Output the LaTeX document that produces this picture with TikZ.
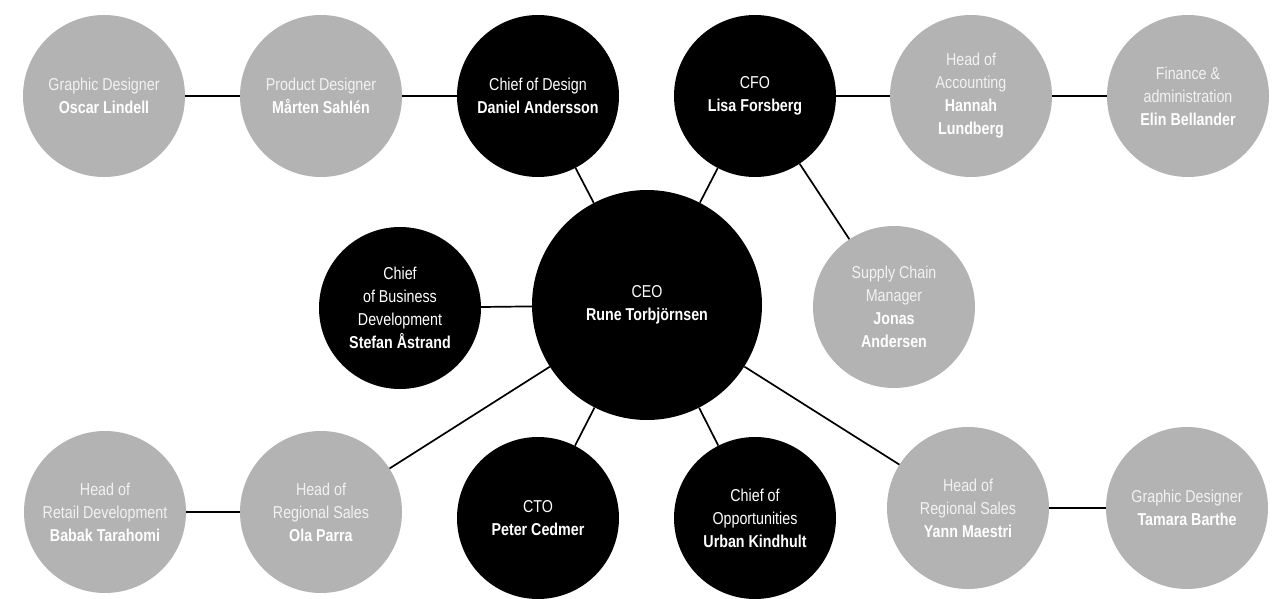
\documentclass[tikz,border=0pt]{standalone}
\usepackage{fontspec}
\setmainfont[FakeStretch=0.83]{Liberation Sans}
\definecolor{grayc}{RGB}{179,179,179}
\definecolor{softw}{RGB}{242,242,242}
\tikzset{
  person/.style={circle, minimum size=162pt, inner sep=0pt, align=center, text=white, font=\fontsize{17.2}{23}\selectfont},
  chief/.style={person, fill=black},
  staff/.style={person, fill=grayc},
  link/.style={line width=1.7pt, draw=black}
}
\begin{document}
\begin{tikzpicture}[x=1pt,y=-1pt]
\useasboundingbox (0,0) rectangle (1278,599);
% top row
\node[staff] (oscar) at (104,96) {\textcolor{softw}{Graphic Designer}\\\textbf{Oscar Lindell}};
\node[staff] (marten) at (321,96) {\textcolor{softw}{Product Designer}\\\textbf{Mårten Sahlén}};
\node[chief] (design) at (538,96) {Chief of Design\\\textbf{Daniel Andersson}};
\node[chief] (cfo) at (755,96) {CFO\\\textbf{Lisa Forsberg}};
\node[staff] (hannah) at (971,96) {\textcolor{softw}{Head of}\\\textcolor{softw}{Accounting}\\\textbf{Hannah}\\\textbf{Lundberg}};
\node[staff] (elin) at (1188,96) {\textcolor{softw}{Finance \&}\\\textcolor{softw}{administration}\\\textbf{Elin Bellander}};
% middle row
\node[chief, minimum size=230pt] (ceo) at (647,305) {CEO\\\textbf{Rune Torbjörnsen}};
\node[chief] (cbd) at (400,308) {Chief\\of Business\\Development\\\textbf{Stefan Åstrand}};
\node[staff] (supply) at (894,307) {\textcolor{softw}{Supply Chain}\\\textcolor{softw}{Manager}\\\textbf{Jonas}\\\textbf{Andersen}};
% bottom row
\node[staff] (retail) at (105,512) {\textcolor{softw}{Head of}\\\textcolor{softw}{Retail Development}\\\textbf{Babak Tarahomi}};
\node[staff] (ola) at (321,512) {\textcolor{softw}{Head of}\\\textcolor{softw}{Regional Sales}\\\textbf{Ola Parra}};
\node[chief] (cto) at (538,518) {CTO\\\textbf{Peter Cedmer}};
\node[chief] (opp) at (755,518) {Chief of\\Opportunities\\\textbf{Urban Kindhult}};
\node[staff] (yann) at (968,508) {\textcolor{softw}{Head of}\\\textcolor{softw}{Regional Sales}\\\textbf{Yann Maestri}};
\node[staff] (tamara) at (1187,508) {\textcolor{softw}{Graphic Designer}\\\textbf{Tamara Barthe}};
% connectors
\draw[link] (oscar) -- (marten);
\draw[link] (marten) -- (design);
\draw[link] (design) -- (ceo);
\draw[link] (cfo) -- (ceo);
\draw[link] (cfo) -- (hannah);
\draw[link] (hannah) -- (elin);
\draw[link] (cfo) -- (supply);
\draw[link] (cbd) -- (ceo);
\draw[link] (ceo) -- (ola);
\draw[link] (ola) -- (retail);
\draw[link] (ceo) -- (cto);
\draw[link] (ceo) -- (opp);
\draw[link] (ceo) -- (yann);
\draw[link] (yann) -- (tamara);
\end{tikzpicture}
\end{document}
